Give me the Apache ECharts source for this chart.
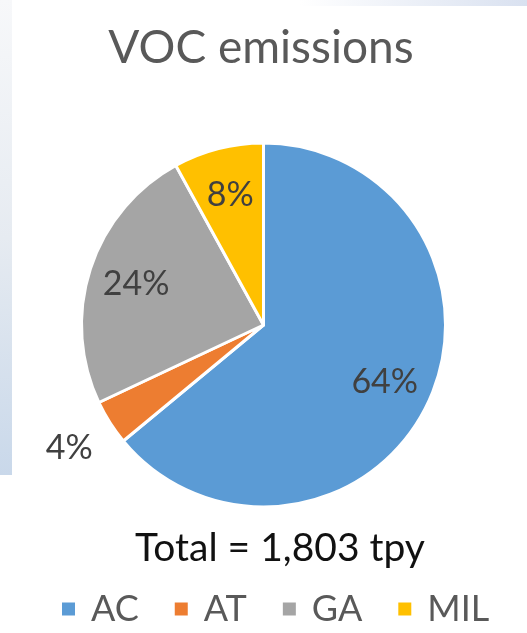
<!DOCTYPE html>
<html>
<head>
<meta charset="utf-8">
<script src="https://cdn.jsdelivr.net/npm/echarts@6/dist/echarts.min.js"></script>
<style>
html,body{margin:0;padding:0;background:#fff;}
#main{width:527px;height:633px;}
</style>
</head>
<body>
<div id="main"></div>
<script>
// ---- data ----
const categories = ['AC', 'AT', 'GA', 'MIL'];
const shares = [64, 4, 24, 8];           // percent of VOC emissions
const colors = ['#5B9BD5', '#ED7D31', '#A5A5A5', '#FFC000'];
const outsideLabel = [false, true, false, false];
const titleText = 'VOC emissions';
const totalText = 'Total = 1,803 tpy';

const FONT = 'Lato';
const CX = 263.5, CY = 325, R = 182;

const chart = echarts.init(document.getElementById('main'));

const pieData = categories.map((c, i) => ({ name: c, value: shares[i], itemStyle: { color: colors[i] } }));

const labelData = (showOutside) => categories.map((c, i) => ({
  name: c, value: shares[i],
  itemStyle: { color: 'rgba(0,0,0,0)' },
  label: { show: outsideLabel[i] === showOutside }
}));

chart.setOption({
  backgroundColor: '#ffffff',
  animation: false,
  title: {
    text: titleText,
    left: 256, top: 20, textAlign: 'center',
    textStyle: { fontFamily: FONT, fontSize: 46, fontWeight: 'normal', color: '#595959' }
  },
  graphic: [
    { type: 'rect', shape: { x: 0, y: 0, width: 12, height: 475 }, silent: true, z: -1,
      style: { fill: new echarts.graphic.LinearGradient(0, 0, 0, 1, [
        { offset: 0, color: '#f7f8fa' }, { offset: 0.5, color: '#e6ebf1' }, { offset: 1, color: '#c9d8ea' }]) } },
    { type: 'rect', shape: { x: 300, y: 0, width: 227, height: 6 }, silent: true, z: -1,
      style: { fill: new echarts.graphic.LinearGradient(0, 0, 1, 0, [
        { offset: 0, color: '#ffffff' }, { offset: 1, color: '#d9e1f0' }]) } },
    { type: 'text', silent: true, x: 280, y: 529,
      style: { text: totalText, font: '39px ' + FONT, fill: '#111111', textAlign: 'center', textVerticalAlign: 'top' } }
  ],
  legend: {
    data: categories,
    left: 55, top: 586,
    icon: 'rect', itemWidth: 15, itemHeight: 15, itemGap: 34,
    textStyle: { fontFamily: FONT, fontSize: 36, color: '#595959', padding: [0, 0, 0, 10] },
    selectedMode: false
  },
  series: [
    {
      type: 'pie', center: [CX, CY], radius: [0, R], startAngle: 90, clockwise: true,
      data: pieData,
      itemStyle: { borderColor: '#ffffff', borderWidth: 3 },
      label: { show: false }, labelLine: { show: false },
      emphasis: { disabled: true }
    },
    {
      type: 'pie', center: [CX, CY], radius: [80, R], startAngle: 90, clockwise: true,
      data: labelData(false), silent: true, legendHoverLink: false,
      label: { position: 'inside', formatter: '{c}%', fontFamily: FONT, fontSize: 34, color: '#404040' },
      labelLine: { show: false }, emphasis: { disabled: true }
    },
    {
      type: 'pie', center: [CX, CY], radius: [R, 272], startAngle: 90, clockwise: true,
      data: labelData(true), silent: true, legendHoverLink: false,
      label: { position: 'inside', formatter: '{c}%', fontFamily: FONT, fontSize: 34, color: '#404040' },
      labelLine: { show: false }, emphasis: { disabled: true }
    }
  ]
});
</script>
</body>
</html>
